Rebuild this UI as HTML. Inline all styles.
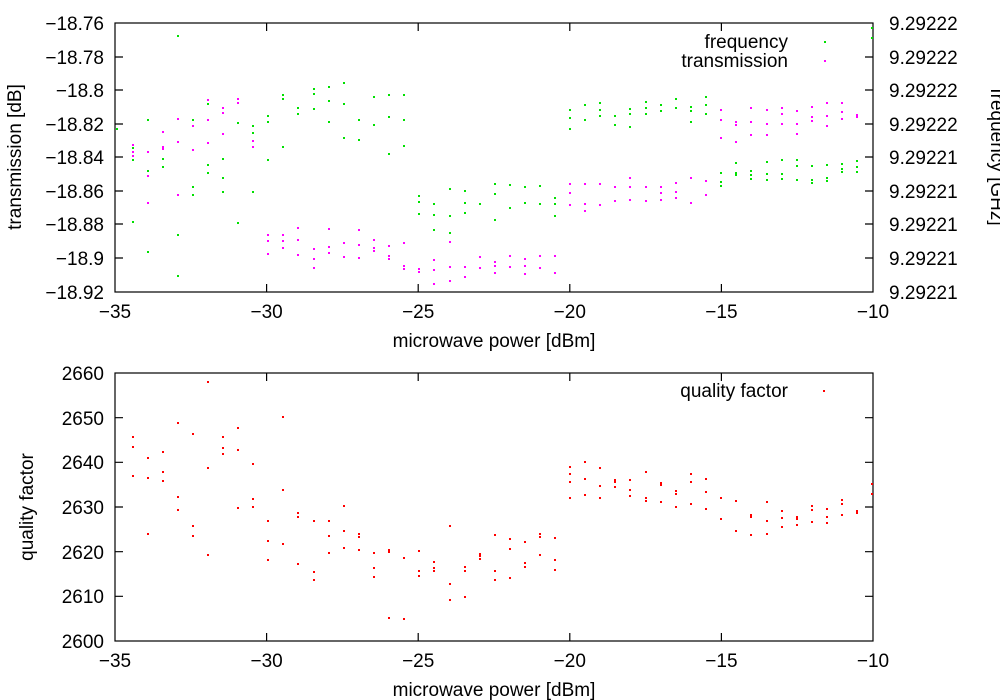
<!DOCTYPE html>
<html><head><meta charset="utf-8"><style>
html,body{margin:0;padding:0;background:#fff}
svg{display:block;font-family:"Liberation Sans",sans-serif;font-size:19px}
</style></head><body>
<svg width="1000" height="700" viewBox="0 0 1000 700" xmlns="http://www.w3.org/2000/svg">
<g fill="none" stroke="#000" stroke-width="1.2">
<rect x="115" y="23" width="758" height="269"/>
<rect x="115" y="373" width="758" height="268"/>
<path d="M266.6 23v8M418.2 23v8M569.8 23v8M721.4 23v8M266.6 292v-8M418.2 292v-8M569.8 292v-8M721.4 292v-8
M115 57h8M115 90h8M115 124h8M115 157h8M115 191h8M115 224h8M115 258h8
M873 57h-8M873 90h-8M873 124h-8M873 157h-8M873 191h-8M873 224h-8M873 258h-8
M266.6 373v8M418.2 373v8M569.8 373v8M721.4 373v8M266.6 641v-8M418.2 641v-8M569.8 641v-8M721.4 641v-8
M115 417.7h8M115 462.3h8M115 507h8M115 551.7h8M115 596.3h8
M873 417.7h-8M873 462.3h-8M873 507h-8M873 551.7h-8M873 596.3h-8"/>
</g>
<g fill="#000" text-anchor="end">
<text x="104" y="30">−18.76</text><text x="104" y="64">−18.78</text><text x="104" y="97">−18.8</text><text x="104" y="131">−18.82</text><text x="104" y="164">−18.84</text><text x="104" y="198">−18.86</text><text x="104" y="231">−18.88</text><text x="104" y="265">−18.9</text><text x="104" y="299">−18.92</text>
<text x="104" y="380">2660</text><text x="104" y="425">2650</text><text x="104" y="469">2640</text><text x="104" y="514">2630</text><text x="104" y="559">2620</text><text x="104" y="603">2610</text><text x="104" y="648">2600</text>
<text x="788" y="48">frequency</text><text x="788" y="67">transmission</text><text x="788" y="397">quality factor</text>
</g>
<g fill="#000" text-anchor="start">
<text x="889" y="30">9.29222</text><text x="889" y="64">9.29222</text><text x="889" y="97">9.29222</text><text x="889" y="131">9.29222</text><text x="889" y="164">9.29221</text><text x="889" y="198">9.29221</text><text x="889" y="231">9.29221</text><text x="889" y="265">9.29221</text><text x="889" y="299">9.29221</text>
</g>
<g fill="#000" text-anchor="middle">
<text x="115" y="318">−35</text><text x="266.6" y="318">−30</text><text x="418.2" y="318">−25</text><text x="569.8" y="318">−20</text><text x="721.4" y="318">−15</text><text x="873" y="318">−10</text>
<text x="115" y="667">−35</text><text x="266.6" y="667">−30</text><text x="418.2" y="667">−25</text><text x="569.8" y="667">−20</text><text x="721.4" y="667">−15</text><text x="873" y="667">−10</text>
<text x="494" y="347">microwave power [dBm]</text><text x="494" y="696">microwave power [dBm]</text>
<text transform="translate(21,157) rotate(-90)">transmission [dB]</text>
<text transform="translate(33,507) rotate(-90)">quality factor</text>
<text transform="translate(991,157) rotate(90)">frequency [GHz]</text>
</g>
<path fill="#00e000" d="M177 35h2v2h-2zM147 119h2v2h-2zM132 147h2v2h-2zM132 159h2v2h-2zM147 170h2v2h-2zM162 158h2v2h-2zM162 166h2v2h-2zM132 221h2v2h-2zM147 251h2v2h-2zM177 234h2v2h-2zM177 275h2v2h-2zM162 131h2v2h-2zM192 119h2v2h-2zM192 186h2v2h-2zM192 194h2v2h-2zM207 103h2v2h-2zM207 164h2v2h-2zM207 172h2v2h-2zM222 158h2v2h-2zM222 177h2v2h-2zM222 191h2v2h-2zM237 122h2v2h-2zM237 222h2v2h-2zM252 125h2v2h-2zM252 132h2v2h-2zM252 191h2v2h-2zM267 115h2v2h-2zM267 121h2v2h-2zM267 159h2v2h-2zM282 94h2v2h-2zM282 98h2v2h-2zM282 146h2v2h-2zM297 107h2v2h-2zM297 113h2v2h-2zM313 88h2v2h-2zM313 93h2v2h-2zM313 108h2v2h-2zM328 86h2v2h-2zM328 100h2v2h-2zM328 121h2v2h-2zM343 82h2v2h-2zM343 103h2v2h-2zM343 137h2v2h-2zM358 119h2v2h-2zM358 139h2v2h-2zM373 96h2v2h-2zM373 124h2v2h-2zM388 94h2v2h-2zM388 116h2v2h-2zM388 153h2v2h-2zM403 94h2v2h-2zM403 119h2v2h-2zM403 145h2v2h-2zM418 195h2v2h-2zM418 201h2v2h-2zM418 213h2v2h-2zM433 203h2v2h-2zM433 214h2v2h-2zM433 229h2v2h-2zM449 188h2v2h-2zM449 215h2v2h-2zM449 232h2v2h-2zM464 190h2v2h-2zM464 202h2v2h-2zM464 212h2v2h-2zM479 203h2v2h-2zM494 183h2v2h-2zM494 193h2v2h-2zM494 219h2v2h-2zM509 184h2v2h-2zM509 207h2v2h-2zM524 186h2v2h-2zM524 202h2v2h-2zM539 185h2v2h-2zM539 203h2v2h-2zM554 197h2v2h-2zM554 203h2v2h-2zM554 215h2v2h-2zM569 109h2v2h-2zM569 117h2v2h-2zM569 128h2v2h-2zM584 104h2v2h-2zM584 119h2v2h-2zM599 102h2v2h-2zM599 109h2v2h-2zM599 115h2v2h-2zM614 115h2v2h-2zM614 124h2v2h-2zM629 108h2v2h-2zM629 113h2v2h-2zM629 126h2v2h-2zM645 101h2v2h-2zM645 107h2v2h-2zM645 113h2v2h-2zM660 104h2v2h-2zM660 110h2v2h-2zM675 98h2v2h-2zM675 107h2v2h-2zM690 106h2v2h-2zM690 110h2v2h-2zM690 121h2v2h-2zM705 96h2v2h-2zM705 104h2v2h-2zM705 113h2v2h-2zM720 172h2v2h-2zM720 181h2v2h-2zM720 185h2v2h-2zM735 162h2v2h-2zM735 172h2v2h-2zM735 174h2v2h-2zM750 170h2v2h-2zM750 174h2v2h-2zM750 178h2v2h-2zM766 161h2v2h-2zM766 173h2v2h-2zM766 179h2v2h-2zM781 159h2v2h-2zM781 173h2v2h-2zM781 178h2v2h-2zM796 159h2v2h-2zM796 165h2v2h-2zM796 179h2v2h-2zM811 165h2v2h-2zM811 179h2v2h-2zM811 182h2v2h-2zM826 164h2v2h-2zM826 177h2v2h-2zM826 180h2v2h-2zM841 163h2v2h-2zM841 168h2v2h-2zM841 171h2v2h-2zM856 160h2v2h-2zM856 166h2v2h-2zM856 171h2v2h-2zM871 27h2v2h-2zM871 37h2v2h-2zM116 128h2v2h-2zM824 41h2v2h-2z"/>
<path fill="#ff00ff" d="M132 144h2v2h-2zM132 151h2v2h-2zM132 155h2v2h-2zM147 151h2v2h-2zM147 175h2v2h-2zM147 202h2v2h-2zM162 131h2v2h-2zM162 146h2v2h-2zM162 148h2v2h-2zM177 118h2v2h-2zM177 141h2v2h-2zM177 194h2v2h-2zM192 125h2v2h-2zM192 149h2v2h-2zM207 99h2v2h-2zM207 119h2v2h-2zM207 142h2v2h-2zM222 107h2v2h-2zM222 112h2v2h-2zM222 133h2v2h-2zM237 98h2v2h-2zM237 102h2v2h-2zM252 140h2v2h-2zM252 146h2v2h-2zM267 234h2v2h-2zM267 240h2v2h-2zM267 253h2v2h-2zM282 234h2v2h-2zM282 240h2v2h-2zM282 247h2v2h-2zM297 227h2v2h-2zM297 239h2v2h-2zM297 254h2v2h-2zM313 248h2v2h-2zM313 258h2v2h-2zM313 267h2v2h-2zM328 228h2v2h-2zM328 246h2v2h-2zM328 252h2v2h-2zM343 242h2v2h-2zM343 256h2v2h-2zM358 229h2v2h-2zM358 244h2v2h-2zM358 257h2v2h-2zM373 239h2v2h-2zM373 247h2v2h-2zM373 250h2v2h-2zM388 245h2v2h-2zM388 255h2v2h-2zM388 258h2v2h-2zM403 242h2v2h-2zM403 265h2v2h-2zM403 268h2v2h-2zM418 268h2v2h-2zM418 271h2v2h-2zM433 259h2v2h-2zM433 269h2v2h-2zM433 283h2v2h-2zM449 241h2v2h-2zM449 266h2v2h-2zM449 280h2v2h-2zM464 266h2v2h-2zM464 276h2v2h-2zM479 256h2v2h-2zM479 267h2v2h-2zM494 261h2v2h-2zM494 265h2v2h-2zM494 272h2v2h-2zM509 255h2v2h-2zM509 266h2v2h-2zM524 258h2v2h-2zM524 265h2v2h-2zM524 273h2v2h-2zM539 255h2v2h-2zM539 267h2v2h-2zM554 255h2v2h-2zM554 272h2v2h-2zM569 183h2v2h-2zM569 192h2v2h-2zM569 204h2v2h-2zM584 183h2v2h-2zM584 203h2v2h-2zM584 210h2v2h-2zM599 183h2v2h-2zM599 204h2v2h-2zM614 186h2v2h-2zM614 200h2v2h-2zM629 177h2v2h-2zM629 186h2v2h-2zM629 199h2v2h-2zM645 186h2v2h-2zM645 200h2v2h-2zM660 186h2v2h-2zM660 192h2v2h-2zM660 199h2v2h-2zM675 182h2v2h-2zM675 191h2v2h-2zM675 197h2v2h-2zM690 177h2v2h-2zM690 202h2v2h-2zM705 180h2v2h-2zM705 194h2v2h-2zM720 109h2v2h-2zM720 119h2v2h-2zM720 137h2v2h-2zM735 121h2v2h-2zM735 124h2v2h-2zM735 141h2v2h-2zM750 107h2v2h-2zM750 121h2v2h-2zM750 134h2v2h-2zM766 109h2v2h-2zM766 123h2v2h-2zM766 134h2v2h-2zM781 107h2v2h-2zM781 113h2v2h-2zM781 123h2v2h-2zM796 110h2v2h-2zM796 123h2v2h-2zM796 133h2v2h-2zM811 106h2v2h-2zM811 116h2v2h-2zM811 120h2v2h-2zM826 102h2v2h-2zM826 115h2v2h-2zM826 125h2v2h-2zM841 102h2v2h-2zM841 111h2v2h-2zM841 118h2v2h-2zM856 116h2v2h-2zM856 114h2v2h-2zM824 60h2v2h-2z"/>
<path fill="#ff0000" d="M207 381h2v2h-2zM132 436h2v2h-2zM132 446h2v2h-2zM132 475h2v2h-2zM147 457h2v2h-2zM147 477h2v2h-2zM147 533h2v2h-2zM162 451h2v2h-2zM162 471h2v2h-2zM162 480h2v2h-2zM177 422h2v2h-2zM177 496h2v2h-2zM177 509h2v2h-2zM192 433h2v2h-2zM192 525h2v2h-2zM192 535h2v2h-2zM207 467h2v2h-2zM207 554h2v2h-2zM222 436h2v2h-2zM222 447h2v2h-2zM222 453h2v2h-2zM237 427h2v2h-2zM237 449h2v2h-2zM237 507h2v2h-2zM252 463h2v2h-2zM252 498h2v2h-2zM252 506h2v2h-2zM267 520h2v2h-2zM267 540h2v2h-2zM267 559h2v2h-2zM282 416h2v2h-2zM282 489h2v2h-2zM282 543h2v2h-2zM297 512h2v2h-2zM297 516h2v2h-2zM297 563h2v2h-2zM313 520h2v2h-2zM313 571h2v2h-2zM313 579h2v2h-2zM328 520h2v2h-2zM328 535h2v2h-2zM328 552h2v2h-2zM343 505h2v2h-2zM343 530h2v2h-2zM343 547h2v2h-2zM358 533h2v2h-2zM358 536h2v2h-2zM358 549h2v2h-2zM373 552h2v2h-2zM373 567h2v2h-2zM373 576h2v2h-2zM388 549h2v2h-2zM388 551h2v2h-2zM388 617h2v2h-2zM403 557h2v2h-2zM403 618h2v2h-2zM418 550h2v2h-2zM418 570h2v2h-2zM418 575h2v2h-2zM433 561h2v2h-2zM433 567h2v2h-2zM433 570h2v2h-2zM449 525h2v2h-2zM449 583h2v2h-2zM449 599h2v2h-2zM464 566h2v2h-2zM464 570h2v2h-2zM464 596h2v2h-2zM479 553h2v2h-2zM479 555h2v2h-2zM479 558h2v2h-2zM494 534h2v2h-2zM494 570h2v2h-2zM494 579h2v2h-2zM509 538h2v2h-2zM509 548h2v2h-2zM509 577h2v2h-2zM524 541h2v2h-2zM524 562h2v2h-2zM524 566h2v2h-2zM539 533h2v2h-2zM539 536h2v2h-2zM539 554h2v2h-2zM554 537h2v2h-2zM554 559h2v2h-2zM554 569h2v2h-2zM569 466h2v2h-2zM569 473h2v2h-2zM569 481h2v2h-2zM569 497h2v2h-2zM584 461h2v2h-2zM584 478h2v2h-2zM584 494h2v2h-2zM599 467h2v2h-2zM599 485h2v2h-2zM599 497h2v2h-2zM614 479h2v2h-2zM614 481h2v2h-2zM614 486h2v2h-2zM629 479h2v2h-2zM629 489h2v2h-2zM629 495h2v2h-2zM645 471h2v2h-2zM645 497h2v2h-2zM645 500h2v2h-2zM660 482h2v2h-2zM660 484h2v2h-2zM660 501h2v2h-2zM675 490h2v2h-2zM675 493h2v2h-2zM675 506h2v2h-2zM690 473h2v2h-2zM690 481h2v2h-2zM690 503h2v2h-2zM705 478h2v2h-2zM705 491h2v2h-2zM705 508h2v2h-2zM720 497h2v2h-2zM720 518h2v2h-2zM735 500h2v2h-2zM735 530h2v2h-2zM750 514h2v2h-2zM750 516h2v2h-2zM750 534h2v2h-2zM766 501h2v2h-2zM766 520h2v2h-2zM766 533h2v2h-2zM781 510h2v2h-2zM781 517h2v2h-2zM781 526h2v2h-2zM796 516h2v2h-2zM796 518h2v2h-2zM796 524h2v2h-2zM811 505h2v2h-2zM811 509h2v2h-2zM811 521h2v2h-2zM826 508h2v2h-2zM826 516h2v2h-2zM826 522h2v2h-2zM841 499h2v2h-2zM841 503h2v2h-2zM841 514h2v2h-2zM856 510h2v2h-2zM856 512h2v2h-2zM871 483h2v2h-2zM871 493h2v2h-2zM823 390h2v2h-2z"/>
</svg>
</body></html>
